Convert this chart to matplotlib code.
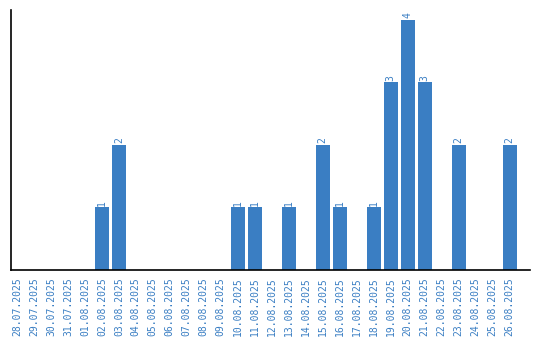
import matplotlib
matplotlib.use("Agg")
import matplotlib.pyplot as plt
import numpy as np

dates = ["28.07.2025", "29.07.2025", "30.07.2025", "31.07.2025", "01.08.2025",
         "02.08.2025", "03.08.2025", "04.08.2025", "05.08.2025", "06.08.2025",
         "07.08.2025", "08.08.2025", "09.08.2025", "10.08.2025", "11.08.2025",
         "12.08.2025", "13.08.2025", "14.08.2025", "15.08.2025", "16.08.2025",
         "17.08.2025", "18.08.2025", "19.08.2025", "20.08.2025", "21.08.2025",
         "22.08.2025", "23.08.2025", "24.08.2025", "25.08.2025", "26.08.2025"]
counts = [0, 0, 0, 0, 0,
          1, 2, 0, 0, 0,
          0, 0, 0, 1, 1,
          0, 1, 0, 2, 1,
          0, 1, 3, 4, 3,
          0, 2, 0, 0, 2]

blue = "#3a7ec3"

fig = plt.figure(figsize=(5.4, 3.4), dpi=100)
ax = fig.add_axes([0.0204, 0.206, 0.961, 0.765])

x = np.arange(len(dates))
bars = ax.bar(x, counts, width=0.82, color=blue)

# value labels on non-empty bars
for xi, v in zip(x, counts):
    if v > 0:
        ax.text(xi, v + 0.03, str(v), rotation=90, ha="center", va="bottom",
                color=blue, fontsize=7, family="DejaVu Sans Mono")

ax.set_xlim(-0.35, 30.2)
ax.set_ylim(0, 4.16)
ax.set_xticks(x)
ax.set_xticklabels(dates, rotation=90, color=blue, fontsize=7,
                   family="DejaVu Sans Mono")
ax.tick_params(axis="x", length=0, pad=5)
ax.set_yticks([])

for side in ["top", "right"]:
    ax.spines[side].set_visible(False)
ax.spines["left"].set_linewidth(1.2)
ax.spines["bottom"].set_linewidth(1.2)

fig.savefig("out.png", dpi=100)
